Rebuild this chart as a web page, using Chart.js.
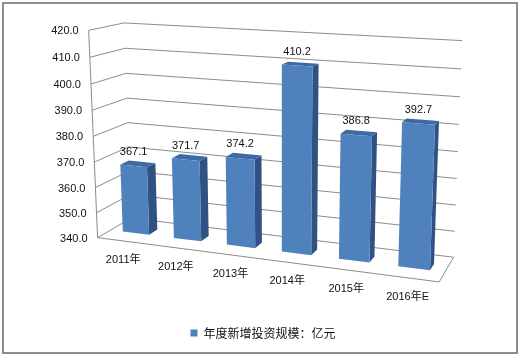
<!DOCTYPE html>
<html><head><meta charset="utf-8">
<script src="https://cdn.jsdelivr.net/npm/chart.js@4.4.1/dist/chart.umd.min.js"></script>
<style>html,body{margin:0;padding:0;background:#fff}#wrap{width:520px;height:358px;position:relative}</style>
</head><body><div id="wrap"><canvas id="c" width="520" height="358"></canvas></div>
<script>
// ---- data ----
const categories = ['2011年', '2012年', '2013年', '2014年', '2015年', '2016年E'];
const seriesName = '年度新增投资规模：亿元';
const values = [367.1, 371.7, 374.2, 410.2, 386.8, 392.7];
const yTickLabels = ['340.0', '350.0', '360.0', '370.0', '380.0', '390.0', '400.0', '410.0', '420.0'];
const yMin = 340, yMax = 420, yStep = 10;

// ---- 3D frame calibration (unit box corners -> pixels) ----
const frame = [
  [[0, 0, 0], [97.5, 233.3]],
  [[0, 1, 0], [88, 32]],
  [[0, 0, 1], [131, 222.5]],
  [[0, 1, 1], [125, 21]],
  [[1, 0, 0], [440, 285]],
  [[1, 0, 1], [453, 254]],
  [[1, 1, 1], [462, 41]]
];
const zFront = 0.38, zBack = 0.64;

function solveCamera(pts) {
  const A = [], b = [];
  for (const [[X, Y, Z], [u, v]] of pts) {
    A.push([X, Y, Z, 1, 0, 0, 0, 0, -u * X, -u * Y, -u * Z]); b.push(u);
    A.push([0, 0, 0, 0, X, Y, Z, 1, -v * X, -v * Y, -v * Z]); b.push(v);
  }
  const n = 11, M = [];
  for (let i = 0; i < n; i++) {
    const row = [];
    for (let j = 0; j < n; j++) { let s = 0; for (let k = 0; k < A.length; k++) s += A[k][i] * A[k][j]; row.push(s); }
    let r = 0; for (let k = 0; k < A.length; k++) r += A[k][i] * b[k];
    row.push(r); M.push(row);
  }
  for (let c = 0; c < n; c++) {
    let p = c;
    for (let r = c + 1; r < n; r++) if (Math.abs(M[r][c]) > Math.abs(M[p][c])) p = r;
    [M[c], M[p]] = [M[p], M[c]];
    for (let r = 0; r < n; r++) {
      if (r === c) continue;
      const f = M[r][c] / M[c][c];
      for (let k = c; k <= n; k++) M[r][k] -= f * M[c][k];
    }
  }
  return M.map((row, i) => row[n] / row[i]);
}
const P = solveCamera(frame);
function proj(X, Y, Z) {
  const w = P[8] * X + P[9] * Y + P[10] * Z + 1;
  return [(P[0] * X + P[1] * Y + P[2] * Z + P[3]) / w, (P[4] * X + P[5] * Y + P[6] * Z + P[7]) / w];
}

const FONT = '"Liberation Sans", "Noto Sans CJK SC", sans-serif';
const GRID = '#8c8c8c';
const TEXT = '#111';

function line(ctx, a, b) {
  const p = proj(...a), q = proj(...b);
  ctx.beginPath(); ctx.moveTo(p[0], p[1]); ctx.lineTo(q[0], q[1]); ctx.stroke();
}
function poly(ctx, pts, fill) {
  ctx.beginPath();
  pts.forEach((pt, i) => { const p = proj(...pt); if (i) ctx.lineTo(p[0], p[1]); else ctx.moveTo(p[0], p[1]); });
  ctx.closePath(); ctx.fillStyle = fill; ctx.fill();
}

const bar3d = {
  id: 'bar3d',
  beforeDraw(chart) {
    const ctx = chart.ctx;
    ctx.save();
    ctx.fillStyle = '#fff'; ctx.fillRect(0, 0, chart.width, chart.height);
    ctx.strokeStyle = '#8e8e8e'; ctx.lineWidth = 2;
    ctx.strokeRect(3, 3, 514, 350);
    ctx.restore();
  },
  beforeDatasetsDraw(chart) {
    const ctx = chart.ctx, ca = chart.chartArea;
    const ys = chart.scales.y;
    const fy = v => (ca.bottom - ys.getPixelForValue(v)) / ca.height;
    const fx = px => (px - ca.left) / ca.width;
    ctx.save();
    ctx.lineWidth = 1; ctx.strokeStyle = GRID;
    // walls gridlines
    yTickLabels.forEach(l => {
      const t = fy(parseFloat(l));
      line(ctx, [0, t, 1], [1, t, 1]);
      line(ctx, [0, t, 0], [0, t, 1]);
    });
    line(ctx, [0, 0, 0], [0, 1, 0]);
    line(ctx, [0, 0, 0], [1, 0, 0]);
    line(ctx, [1, 0, 0], [1, 0, 1]);
    // y tick labels
    ctx.fillStyle = TEXT; ctx.font = '11px ' + FONT;
    ctx.textAlign = 'right'; ctx.textBaseline = 'middle';
    yTickLabels.forEach(l => {
      const p = proj(0, fy(parseFloat(l)), 0);
      ctx.fillText(l, p[0] - 10, p[1] + 1);
    });
    // bars
    const meta = chart.getDatasetMeta(0);
    const y0 = fy(yMin);
    meta.data.forEach((el, i) => {
      const xc = fx(el.x), hw = el.width / 2 / ca.width;
      const yt = (ca.bottom - el.y) / ca.height;
      const xl = xc - hw, xr = xc + hw;
      poly(ctx, [[xr, y0, zFront], [xr, y0, zBack], [xr, yt, zBack], [xr, yt, zFront]], '#2f5283');
      poly(ctx, [[xl, yt, zFront], [xr, yt, zFront], [xr, yt, zBack], [xl, yt, zBack]], '#3d6aa5');
      poly(ctx, [[xl, y0, zFront], [xr, y0, zFront], [xr, yt, zFront], [xl, yt, zFront]], '#4f81bd');
      // value label
      const p = proj(xc, yt, zFront);
      ctx.fillStyle = TEXT; ctx.font = '11px ' + FONT;
      ctx.textAlign = 'center'; ctx.textBaseline = 'middle';
      ctx.fillText(values[i].toFixed(1), p[0], p[1] - 14);
      // category label
      const q = proj(xc, y0, 0);
      ctx.fillText(categories[i], q[0], q[1] + 19);
    });
    ctx.restore();
    return false;
  }
};

new Chart(document.getElementById('c'), {
  type: 'bar',
  data: {
    labels: categories,
    datasets: [{ label: seriesName, data: values, backgroundColor: '#4f81bd', borderWidth: 0,
      base: yMin, barPercentage: 0.52, categoryPercentage: 1 }]
  },
  options: {
    responsive: false, animation: false,
    layout: { padding: { left: 66, right: 60, top: 30, bottom: 9 } },
    scales: {
      x: { display: false },
      y: { display: false, min: yMin, max: yMax, ticks: { stepSize: yStep } }
    },
    plugins: {
      legend: { position: 'bottom', labels: { boxWidth: 7, boxHeight: 7, color: TEXT,
        font: { size: 12, family: '"Noto Sans CJK SC", "Liberation Sans", sans-serif' } } },
      tooltip: { enabled: false }
    }
  },
  plugins: [bar3d]
});
</script></body></html>
